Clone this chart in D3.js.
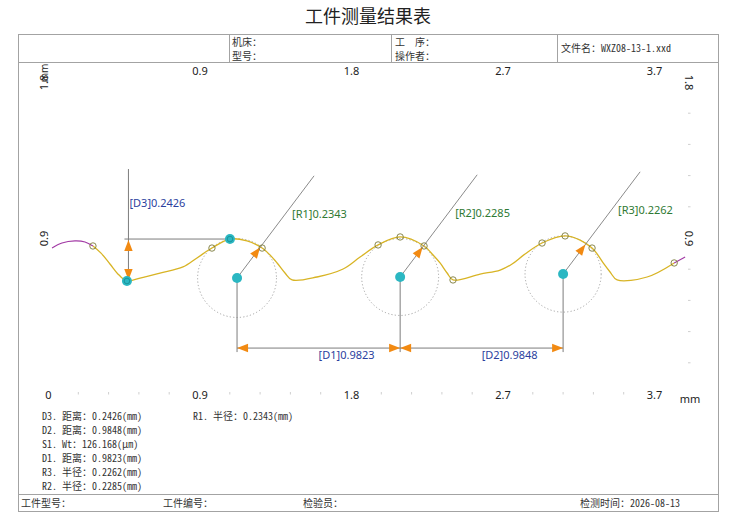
<!DOCTYPE html>
<html><head><meta charset="utf-8">
<script src="https://cdn.jsdelivr.net/npm/d3@7"></script>
<style>body{margin:0;background:#fff}svg{display:block}</style>
</head><body><svg id="c" width="734" height="531"></svg>
<script>
// ---------- data ----------
const xTicks=[0,0.9,1.8,2.7,3.6];
const xTickLabels=["0","0.9","1.8","2.7","3.7"];
const topTicks=[0.9,1.8,2.7,3.6];
const topTickLabels=["0.9","1.8","2.7","3.7"];
const yTicks=[0.9,1.8];
const yTickLabels=["0.9","1.8"];
const minorStep=0.18;

const startX=[0.024,0.083,0.160,0.220,0.267];
const startY=[0.842,0.871,0.883,0.877,0.854];
const profileX=[0.267,0.315,0.368,0.422,0.469,0.547,0.665,0.802,0.885,0.974,1.081,1.182,1.272,1.319,1.361,1.408,1.450,1.598,1.753,1.854,1.961,2.092,2.234,2.282,2.329,2.371,2.406,2.567,2.686,2.757,2.834,2.935,3.072,3.161,3.232,3.262,3.298,3.339,3.381,3.559,3.720];
const profileY=[0.854,0.813,0.750,0.686,0.652,0.669,0.698,0.733,0.785,0.842,0.894,0.883,0.842,0.802,0.756,0.698,0.658,0.675,0.721,0.790,0.860,0.906,0.854,0.808,0.756,0.698,0.658,0.692,0.715,0.750,0.808,0.871,0.912,0.888,0.842,0.808,0.756,0.704,0.658,0.675,0.756];
const endX=[3.720,3.785];
const endY=[0.756,0.790];

const markX=[0.267,0.974,1.272,1.961,2.092,2.234,2.406,2.935,3.072,3.232,3.720];
const markY=[0.854,0.842,0.842,0.860,0.906,0.854,0.658,0.871,0.912,0.842,0.756];
const keyX=[0.469,1.081];
const keyY=[0.652,0.894];

const circleNames=["R1","R2","R3"];
const circleX=[1.123,2.092,3.060];
const circleY=[0.669,0.675,0.692];
const circleR=[0.2343,0.2285,0.2262];
const distNames=["D1","D2"];
const distValues=[0.9823,0.9848];
const heightName="D3";
const heightValue=0.2426;
const dimLevel=0.265;

const resultLines=["D3. 距离：0.2426(mm)","D2. 距离：0.9848(mm)","S1. Wt：126.168(μm)","D1. 距离：0.9823(mm)","R3. 半径：0.2262(mm)","R2. 半径：0.2285(mm)"];
const resultLines2=["R1. 半径：0.2343(mm)"];
const title="工件测量结果表";
const headerCells=[["机床：","型号："],["工　序：","操作者："],["文件名：WXZ08-13-1.xxd"]];
const footerCells=["工件型号：","工件编号：","检验员：","检测时间：2026-08-13"];

// ---------- drawing ----------
const svg=d3.select("#c");
const CJK='"Noto Sans Mono CJK SC","Noto Sans CJK SC",sans-serif';
const SANS='"Noto Sans","Open Sans",sans-serif';
const x=d3.scaleLinear().domain([0,3.6]).range([48,654]);
const y=d3.scaleLinear().domain([0.9,1.8]).range([238,82]);
const pxPerMm=x(1)-x(0);

// title
svg.append("text").attr("x",368).attr("y",23).attr("text-anchor","middle")
  .style("font-family",'"Noto Sans CJK SC",sans-serif').style("font-size","18px").attr("fill","#222").text(title);

// frame
const fr=svg.append("g").attr("stroke","#a3a3a3").attr("fill","none").attr("stroke-width",1);
fr.append("rect").attr("x",18.5).attr("y",34.5).attr("width",700).attr("height",477);
fr.append("line").attr("x1",18).attr("x2",718).attr("y1",62.5).attr("y2",62.5);
fr.append("line").attr("x1",18).attr("x2",718).attr("y1",494.5).attr("y2",494.5);
[229.5,391.5,557.5].forEach(v=>fr.append("line").attr("x1",v).attr("x2",v).attr("y1",34).attr("y2",62));

// header text
const hx=[232,395,561];
headerCells.forEach((cell,i)=>{
  cell.forEach((t,j)=>{
    const yy = cell.length===1 ? 52 : (j===0?46:60);
    svg.append("text").attr("x",hx[i]).attr("y",yy).style("font-family",CJK).style("font-size","10px").attr("fill","#333").text(t);
  });
});
// footer
const fx=[21,163,303,580];
footerCells.forEach((t,i)=>svg.append("text").attr("x",fx[i]).attr("y",507).style("font-family",CJK).style("font-size","10px").attr("fill","#333").text(t));

// axes
function styleAxis(g){g.select(".domain").remove();g.selectAll("text").style("font-family",SANS).style("font-size","11px").attr("fill","#222");}
svg.append("g").attr("transform","translate(0,391)")
  .call(d3.axisBottom(x).tickValues(xTicks).tickFormat((d,i)=>xTickLabels[i]).tickSize(0).tickPadding(0)).call(styleAxis);
svg.append("g").attr("transform","translate(0,75)")
  .call(d3.axisTop(x).tickValues(topTicks).tickFormat((d,i)=>topTickLabels[i]).tickSize(0).tickPadding(0)).call(styleAxis);
svg.append("text").attr("x",690).attr("y",403).attr("text-anchor","middle").style("font-family",SANS).style("font-size","11px").attr("fill","#222").text("mm");

const la=svg.append("g").attr("transform","translate(44,0)")
  .call(d3.axisLeft(y).tickValues(yTicks).tickFormat((d,i)=>yTickLabels[i]).tickSize(0)).call(styleAxis);
la.selectAll("text").attr("x",0).attr("dy","0.35em").attr("text-anchor","middle").attr("transform","rotate(-90)");
svg.append("text").attr("transform","translate(44,73) rotate(-90)").attr("dy","0.35em").attr("text-anchor","middle")
  .style("font-family",SANS).style("font-size","10px").attr("fill","#222").text("mm");
const ra=svg.append("g").attr("transform","translate(689,0)")
  .call(d3.axisRight(y).tickValues(yTicks).tickFormat((d,i)=>yTickLabels[i]).tickSize(0)).call(styleAxis);
ra.selectAll("text").attr("x",0).attr("dy","0.35em").attr("text-anchor","middle").attr("transform","rotate(90)");

// minor ticks
const mt=svg.append("g").attr("stroke","#cfcfcf").attr("stroke-width",1);
d3.range(1,20).filter(k=>k%5!==0).forEach(k=>{
  const xv=x(k*minorStep);
  mt.append("line").attr("x1",xv).attr("x2",xv).attr("y1",392).attr("y2",394.5);
});
d3.range(1,10).filter(k=>k%5!==0).forEach(k=>{
  const yv=y(k*minorStep);
  mt.append("line").attr("x1",688).attr("x2",690.5).attr("y1",yv).attr("y2",yv);
});

// helpers
function arrow(tx,ty,ang,L=11,w=4.2){
  const c=Math.cos(ang),s=Math.sin(ang);
  const bx=tx-L*c,by=ty-L*s;
  svg.append("path").attr("d",`M${tx},${ty}L${bx- w*s},${by+w*c}L${bx+w*s},${by-w*c}Z`).attr("fill","#f28a12");
}
const gray="#7d7d7d";

// dotted circles
circleX.forEach((cx,i)=>{
  svg.append("circle").attr("cx",x(cx)).attr("cy",y(circleY[i])).attr("r",circleR[i]*pxPerMm)
    .attr("fill","none").attr("stroke","#9a9a9a").attr("stroke-width",0.9).attr("stroke-dasharray","1.2,2.2");
});

// profile
const line=d3.line().x((d,i,a)=>x(d[0])).y(d=>y(d[1])).curve(d3.curveCatmullRom.alpha(0.5));
const zip=(a,b)=>a.map((v,i)=>[v,b[i]]);
svg.append("path").attr("d",line(zip(startX,startY))).attr("fill","none").attr("stroke","#a23aa5").attr("stroke-width",1.2);
svg.append("path").attr("d",line(zip(profileX,profileY))).attr("fill","none").attr("stroke","#d8b425").attr("stroke-width",1.3);
svg.append("path").attr("d",line(zip(endX,endY))).attr("fill","none").attr("stroke","#a23aa5").attr("stroke-width",1.1);

// D3 height annotation
const vx=x(keyX[0])+1.5, yLow=y(keyY[0]), yHigh=y(keyY[1]);
svg.append("line").attr("x1",vx).attr("x2",vx).attr("y1",yHigh-70).attr("y2",yLow).attr("stroke",gray).attr("stroke-width",1);
svg.append("line").attr("x1",vx-4).attr("x2",x(keyX[1])).attr("y1",yHigh).attr("y2",yHigh).attr("stroke",gray).attr("stroke-width",1);
arrow(vx,yHigh+1,-Math.PI/2);
arrow(vx,yLow-1,Math.PI/2);
svg.append("text").attr("x",vx+1).attr("y",yHigh-36).attr("dy","0.35em").style("font-family",SANS).style("font-size","11px")
  .attr("fill","#2b3f9e").text(`[${heightName}]${heightValue.toFixed(4)}`);

// radius annotations
const ang=-53*Math.PI/180;
circleX.forEach((cx,i)=>{
  const px=x(cx),py=y(circleY[i]),r=circleR[i]*pxPerMm;
  const L=128;
  svg.append("line").attr("x1",px).attr("y1",py).attr("x2",px+L*Math.cos(ang)).attr("y2",py+L*Math.sin(ang)).attr("stroke",gray).attr("stroke-width",0.9);
  svg.append("line").attr("x1",px).attr("y1",py).attr("x2",px).attr("y2",y(dimLevel)+4).attr("stroke",gray).attr("stroke-width",1);
  arrow(px+(r-1)*Math.cos(ang),py+(r-1)*Math.sin(ang),ang);
  svg.append("text").attr("x",px+55).attr("y",py-64).attr("dy","0.35em").style("font-family",SANS).style("font-size","11px")
    .attr("fill","#2f7a34").text(`[${circleNames[i]}]${circleR[i].toFixed(4)}`);
});

// distance annotations
const dy=y(dimLevel);
distNames.forEach((n,i)=>{
  const x1=x(circleX[i]),x2=x(circleX[i+1]);
  svg.append("line").attr("x1",x1).attr("x2",x2).attr("y1",dy).attr("y2",dy).attr("stroke",gray).attr("stroke-width",1);
  arrow(x1,dy,Math.PI);
  arrow(x2,dy,0);
  svg.append("text").attr("x",(x1+x2)/2).attr("y",dy+7).attr("dy","0.35em").style("font-family",SANS).style("font-size","11px")
    .attr("fill","#2b3f9e").text(`[${n}]${distValues[i].toFixed(4)}`);
});

// open markers
markX.forEach((mx,i)=>{
  svg.append("circle").attr("cx",x(mx)).attr("cy",y(markY[i])).attr("r",3.2).attr("fill","none").attr("stroke","#7c7a3c").attr("stroke-width",0.9);
});
// key teal markers
keyX.forEach((kx,i)=>{
  svg.append("circle").attr("cx",x(kx)).attr("cy",y(keyY[i])).attr("r",5).attr("fill","#2bb7c2");
  svg.append("circle").attr("cx",x(kx)).attr("cy",y(keyY[i])).attr("r",2.8).attr("fill","none").attr("stroke","#178c92").attr("stroke-width",0.8);
});
// circle centers
circleX.forEach((cx,i)=>{
  svg.append("circle").attr("cx",x(cx)).attr("cy",y(circleY[i])).attr("r",5).attr("fill","#2bb7c2");
});

// results text
resultLines.forEach((t,i)=>svg.append("text").attr("x",42).attr("y",420+i*13.9).style("font-family",CJK).style("font-size","10px").attr("fill","#333").text(t));
resultLines2.forEach((t,i)=>svg.append("text").attr("x",193).attr("y",420+i*13.9).style("font-family",CJK).style("font-size","10px").attr("fill","#333").text(t));
</script></body></html>
